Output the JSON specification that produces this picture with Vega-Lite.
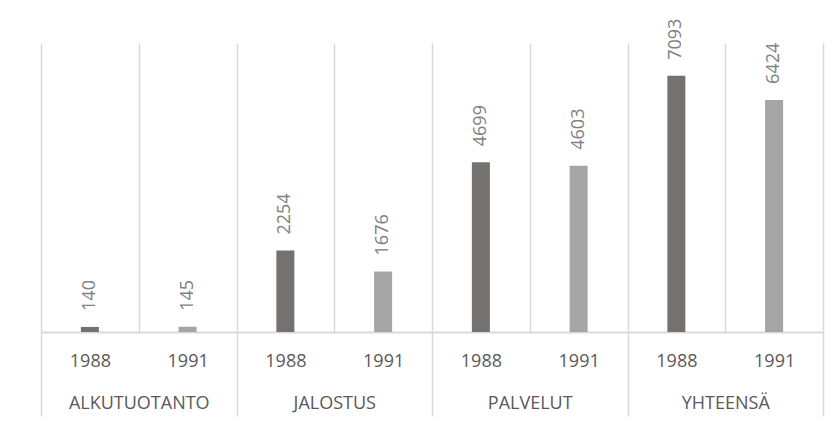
{
  "$schema": "https://vega.github.io/schema/vega-lite/v6.json",
  "width": 782,
  "height": 289,
  "autosize": {"type": "none"},
  "padding": {"left": 41, "top": 43, "right": 17, "bottom": 89},
  "background": "white",
  "config": {"view": {"stroke": null}, "font": "Open Sans"},
  "data": {
    "values": [
      {"category": "ALKUTUOTANTO", "year": "1988", "key": "ALKUTUOTANTO 1988", "value": 140},
      {"category": "ALKUTUOTANTO", "year": "1991", "key": "ALKUTUOTANTO 1991", "value": 145},
      {"category": "JALOSTUS", "year": "1988", "key": "JALOSTUS 1988", "value": 2254},
      {"category": "JALOSTUS", "year": "1991", "key": "JALOSTUS 1991", "value": 1676},
      {"category": "PALVELUT", "year": "1988", "key": "PALVELUT 1988", "value": 4699},
      {"category": "PALVELUT", "year": "1991", "key": "PALVELUT 1991", "value": 4603},
      {"category": "YHTEENSÄ", "year": "1988", "key": "YHTEENSÄ 1988", "value": 7093},
      {"category": "YHTEENSÄ", "year": "1991", "key": "YHTEENSÄ 1991", "value": 6424}
    ]
  },
  "layer": [
    {
      "encoding": {
        "x": {
          "field": "key",
          "type": "nominal",
          "sort": null,
          "scale": {"paddingInner": 0, "paddingOuter": 0},
          "axis": {
            "title": null,
            "orient": "bottom",
            "labelExpr": "slice(datum.label, -4)",
            "labelAngle": 0,
            "tickBand": "extent",
            "grid": true,
            "gridColor": "#d9d9d9",
            "gridWidth": 1.5,
            "ticks": false,
            "tickSize": 0,
            "domainColor": "#d9d9d9",
            "domainWidth": 2,
            "labelPadding": 20,
            "labelFont": "Open Sans",
            "labelFontSize": 18,
            "labelColor": "#595959",
            "labelOverlap": false
          }
        },
        "y": {
          "field": "value",
          "type": "quantitative",
          "scale": {"domain": [0, 8000]},
          "axis": null
        }
      },
      "layer": [
        {
          "mark": {"type": "bar", "width": 18},
          "encoding": {
            "color": {
              "field": "year",
              "type": "nominal",
              "scale": {"domain": ["1988", "1991"], "range": ["#767171", "#a5a5a5"]},
              "legend": null
            }
          }
        },
        {
          "mark": {
            "type": "text",
            "angle": 270,
            "align": "left",
            "baseline": "middle",
            "dx": 16,
            "fontSize": 18,
            "font": "Open Sans",
            "color": "#808080"
          },
          "encoding": {"text": {"field": "value", "type": "quantitative"}}
        }
      ]
    },
    {
      "mark": {"type": "tick", "opacity": 0},
      "encoding": {
        "x": {
          "field": "category",
          "type": "nominal",
          "sort": null,
          "scale": {"paddingInner": 0, "paddingOuter": 0},
          "axis": {
            "title": null,
            "orient": "bottom",
            "labelAngle": 0,
            "tickBand": "extent",
            "grid": false,
            "ticks": true,
            "tickSize": 84,
            "tickColor": "#d9d9d9",
            "tickWidth": 1.5,
            "domain": false,
            "labelPadding": -22,
            "labelFont": "Open Sans",
            "labelFontSize": 18,
            "labelColor": "#595959",
            "labelOverlap": false
          }
        }
      }
    }
  ],
  "resolve": {"scale": {"x": "independent"}, "axis": {"x": "independent"}}
}
